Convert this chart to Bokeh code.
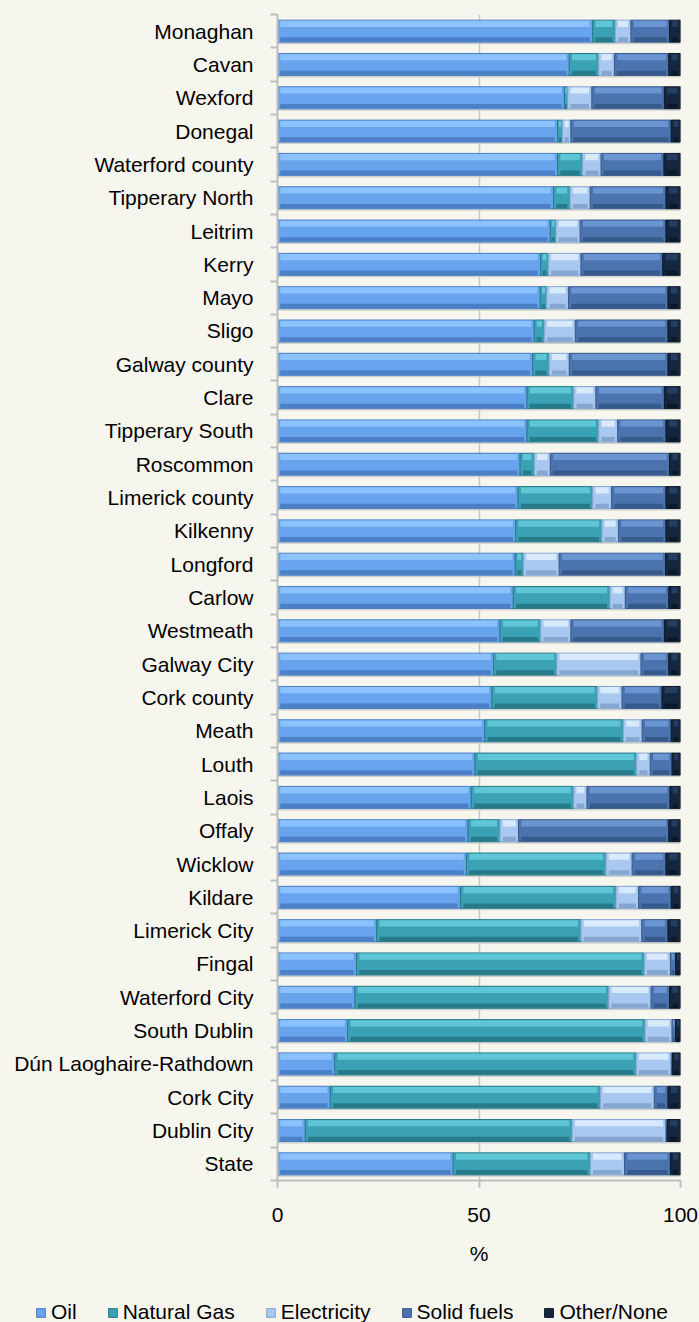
import numpy as np
from bokeh.plotting import figure
from bokeh.layouts import column
from bokeh.models import Range1d, FixedTicker, Legend, LegendItem
from bokeh.embed import file_html
from bokeh.resources import INLINE

# ---------------- data (percent of households, by main heating fuel) ----------------
regions = ["Monaghan", "Cavan", "Wexford", "Donegal", "Waterford county", "Tipperary North",
           "Leitrim", "Kerry", "Mayo", "Sligo", "Galway county", "Clare", "Tipperary South",
           "Roscommon", "Limerick county", "Kilkenny", "Longford", "Carlow", "Westmeath",
           "Galway City", "Cork county", "Meath", "Louth", "Laois", "Offaly", "Wicklow",
           "Kildare", "Limerick City", "Fingal", "Waterford City", "South Dublin",
           "Dún Laoghaire-Rathdown", "Cork City", "Dublin City", "State"]

oil = [78.2, 72.4, 71.2, 69.5, 69.5, 68.5, 67.7, 65.3, 65.2, 63.7, 63.3, 61.9, 61.9,
       60.2, 59.7, 59.1, 59.0, 58.5, 55.2, 53.6, 53.2, 51.4, 49.0, 48.1, 47.3, 46.9,
       45.4, 24.6, 19.6, 19.2, 17.4, 14.2, 13.1, 6.9, 43.6]
natural_gas = [5.6, 7.3, 0.8, 1.2, 6.2, 4.1, 1.4, 1.9, 1.6, 2.5, 4.1, 11.6, 17.8,
               3.5, 18.5, 21.4, 2.0, 24.0, 10.1, 15.7, 26.2, 34.4, 40.1, 25.4, 7.9, 34.6,
               38.6, 50.7, 71.4, 63.0, 73.8, 74.8, 67.0, 66.2, 34.0]
electricity = [3.9, 3.9, 6.0, 2.1, 4.6, 5.0, 6.0, 8.1, 5.4, 7.7, 5.0, 5.5, 4.7,
               4.0, 4.7, 4.1, 8.9, 3.8, 7.5, 20.9, 6.1, 4.7, 3.4, 3.3, 4.6, 6.5,
               5.6, 15.1, 6.5, 10.5, 6.7, 8.7, 13.4, 23.3, 8.5]
solid_fuels = [9.6, 13.5, 18.0, 24.9, 15.6, 18.8, 21.3, 20.3, 24.7, 23.0, 24.5, 17.0, 12.0,
               29.6, 13.5, 11.8, 26.4, 10.8, 23.2, 6.9, 9.9, 7.2, 5.4, 20.6, 37.3, 8.4,
               8.1, 6.5, 1.3, 4.6, 0.9, 0.3, 3.4, 0.3, 11.4]
other_none = [2.7, 2.9, 4.0, 2.3, 4.1, 3.6, 3.6, 4.4, 3.1, 3.1, 3.1, 4.0, 3.6,
              2.7, 3.6, 3.6, 3.7, 2.9, 4.0, 2.9, 4.6, 2.3, 2.1, 2.6, 2.9, 3.6,
              2.3, 3.1, 1.2, 2.7, 1.2, 2.0, 3.1, 3.3, 2.5]

series_names = ["Oil", "Natural Gas", "Electricity", "Solid fuels", "Other/None"]
x_ticks = [0, 50, 100]
x_label = "%"

# ---------------- style ----------------
FONT = "Liberation Sans"
BG = "#f6f6ee"
AXIS_GREY = "#bdbdbd"
# (highlight, body, shade)
palettes = [
    ("#8cc2ff", "#68a3ee", "#4b7fc6"),
    ("#5fc6d6", "#3aa2b4", "#277a89"),
    ("#d8eaff", "#a9c8ef", "#86a6d2"),
    ("#6a95d0", "#4b74ae", "#375a8c"),
    ("#243d60", "#15273f", "#0b1829"),
]

n = len(regions)
ypos = np.arange(n)[::-1].astype(float)   # first region on top
H = 0.66

p = figure(width=699, height=1290,
           x_range=Range1d(0, 100), y_range=Range1d(-0.5, n - 0.5),
           output_backend="svg", toolbar_location=None,
           min_border_left=277, min_border_right=19, min_border_top=14, min_border_bottom=110,
           background_fill_color=BG, border_fill_color=BG, outline_line_color=None)
p.frame_align = False

# bar shadows
total = np.sum([oil, natural_gas, electricity, solid_fuels, other_none], axis=0)
p.hbar(y=ypos - H / 2 - 0.03, left=0, right=total, height=0.06,
       fill_color="#c4c8c6", fill_alpha=0.8, line_color=None)

series = [oil, natural_gas, electricity, solid_fuels, other_none]
cum = np.zeros(n)
for name, vals, (ctop, cmid, cbot) in zip(series_names, series, palettes):
    vals = np.asarray(vals, dtype=float)
    left = cum.copy()
    right = cum + vals
    cum = right
    inset = np.minimum(0.7, vals * 0.25)
    p.hbar(y=ypos, left=left, right=right, height=H,
           fill_color=cmid, line_color=cbot, line_width=1)
    p.hbar(y=ypos + H / 2 - H * 0.17, left=left + inset, right=right - inset, height=H * 0.28,
           fill_color=ctop, line_color=None)
    p.hbar(y=ypos - H / 2 + H * 0.12, left=left + inset, right=right - inset, height=H * 0.20,
           fill_color=cbot, line_color=None)

# x axis
xa = p.xaxis[0]
xt = FixedTicker(ticks=x_ticks)
xa.ticker = xt
xa.axis_label = x_label
xa.axis_label_text_font = FONT
xa.axis_label_text_font_size = "21px"
xa.axis_label_text_font_style = "normal"
xa.axis_label_text_color = "#000000"
xa.axis_label_standoff = 17
xa.major_label_text_font = FONT
xa.major_label_text_font_size = "21px"
xa.major_label_text_color = "#000000"
xa.major_label_standoff = 20
xa.axis_line_color = AXIS_GREY
xa.axis_line_width = 2
xa.major_tick_line_color = AXIS_GREY
xa.major_tick_line_width = 2
xa.major_tick_in = 0
xa.major_tick_out = 7
xa.minor_tick_line_color = None

p.xgrid.ticker = xt
p.xgrid.grid_line_color = "#c6c6c6"
p.xgrid.grid_line_width = 1.5
p.ygrid.visible = False

# y axis (labels at centres, ticks at category boundaries)
ya = p.yaxis[0]
ya.ticker = FixedTicker(ticks=list(ypos), minor_ticks=[k - 0.5 for k in range(n + 1)])
ya.major_label_overrides = {float(y): name for y, name in zip(ypos, regions)}
ya.major_label_text_font = FONT
ya.major_label_text_font_size = "21px"
ya.major_label_text_color = "#000000"
ya.major_label_standoff = 17
ya.major_tick_line_color = None
ya.major_tick_in = 0
ya.major_tick_out = 0
ya.minor_tick_line_color = AXIS_GREY
ya.minor_tick_line_width = 2
ya.minor_tick_in = 0
ya.minor_tick_out = 7
ya.axis_line_color = AXIS_GREY
ya.axis_line_width = 2

# ---------------- legend strip ----------------
pl = figure(width=699, height=32, x_range=Range1d(0, 1), y_range=Range1d(0, 1),
            output_backend="svg", toolbar_location=None,
            x_axis_location=None, y_axis_location=None,
            min_border=0, background_fill_color=BG, border_fill_color=BG,
            outline_line_color=None)
pl.frame_align = False
pl.xgrid.visible = False
pl.ygrid.visible = False
items = []
for nm, (ctop, cmid, cbot) in zip(series_names, palettes):
    # legend proxy (kept outside the visible range)
    rr = pl.hbar(y=[-5], left=[0], right=[1], height=0.5,
                 fill_color=cmid, line_color=cbot, line_width=1)
    items.append(LegendItem(label=nm, renderers=[rr]))
legend = Legend(items=items, orientation="horizontal", location=(35, -2),
                label_text_font=FONT, label_text_font_size="21px", label_text_color="#000000",
                glyph_width=11, glyph_height=11, label_standoff=5, spacing=30,
                padding=0, margin=0, border_line_color=None, background_fill_alpha=0)
pl.add_layout(legend)

layout = column(p, pl, spacing=0, styles={"background-color": BG})
open("out.html", "w").write(file_html(layout, INLINE))
